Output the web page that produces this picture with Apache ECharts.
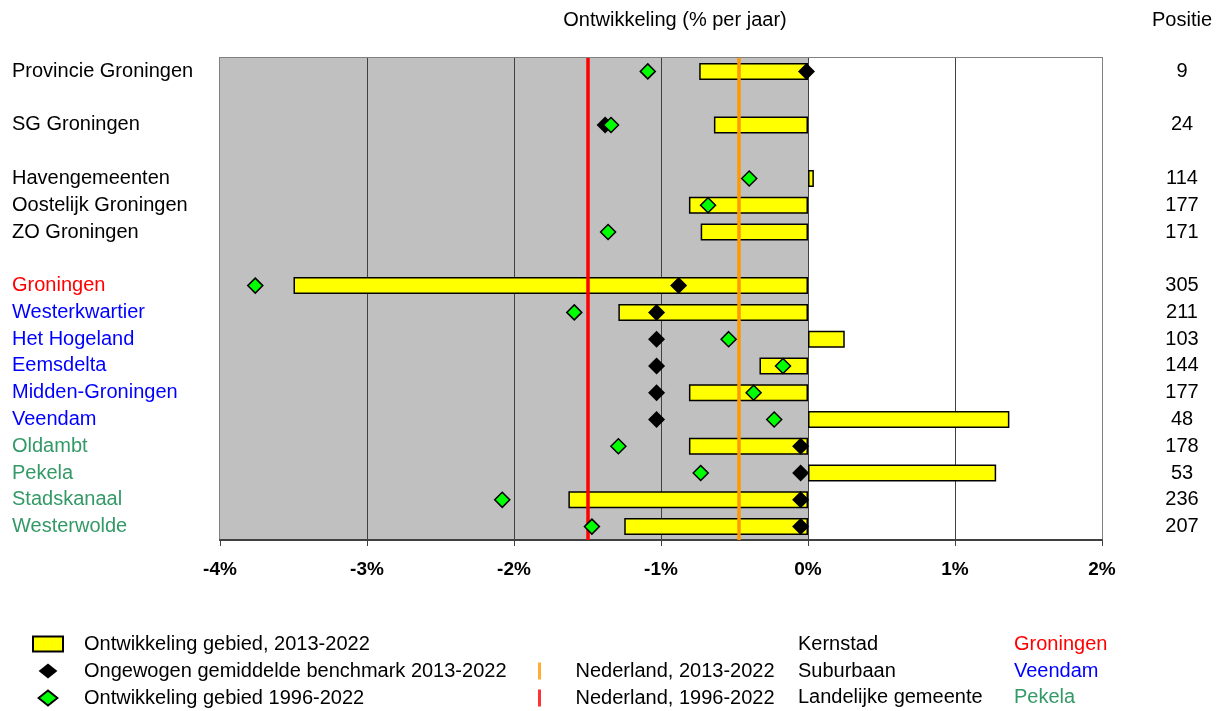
<!DOCTYPE html>
<html>
<head>
<meta charset="utf-8">
<script src="https://cdn.jsdelivr.net/npm/echarts@6/dist/echarts.min.js"></script>
<style>
html, body { margin: 0; padding: 0; background: #fff; }
#container { width: 1223px; height: 711px; }
</style>
</head>
<body>
<div id="container"></div>
<script>
// rows of the chart, '' = empty spacer row
var categories = ['Provincie Groningen', '', 'SG Groningen', '', 'Havengemeenten', 'Oostelijk Groningen', 'ZO Groningen', '',
    'Groningen', 'Westerkwartier', 'Het Hogeland', 'Eemsdelta', 'Midden-Groningen', 'Veendam',
    'Oldambt', 'Pekela', 'Stadskanaal', 'Westerwolde'];
var groups = ['regio', '', 'regio', '', 'regio', 'regio', 'regio', '',
    'kernstad', 'suburbaan', 'suburbaan', 'suburbaan', 'suburbaan', 'suburbaan',
    'landelijk', 'landelijk', 'landelijk', 'landelijk'];
var ontw2013 = [-0.74, null, -0.64, null, 0.04, -0.81, -0.73, null,
    -3.50, -1.29, 0.25, -0.33, -0.81, 1.37, -0.81, 1.28, -1.63, -1.25];
var benchmark2013 = [-0.01, null, -1.38, null, null, null, null, null,
    -0.88, -1.03, -1.03, -1.03, -1.03, -1.03, -0.05, -0.05, -0.05, -0.05];
var ontw1996 = [-1.09, null, -1.34, null, -0.40, -0.68, -1.36, null,
    -3.76, -1.59, -0.54, -0.17, -0.37, -0.23, -1.29, -0.73, -2.08, -1.47];
var positie = ['9', '', '24', '', '114', '177', '171', '',
    '305', '211', '103', '144', '177', '48', '178', '53', '236', '207'];
var nederland2013 = -0.47;
var nederland1996 = -1.50;
var xTicks = [-4, -3, -2, -1, 0, 1, 2];

var groupColors = { regio: '#000000', kernstad: '#ff0000', suburbaan: '#0000ff', landelijk: '#339966', '': '#000000' };
var font = 'Liberation Sans, Arial, sans-serif';
var diamondIcon = 'path://M10,0L20,8L10,16L0,8Z';
var barIcon = 'path://M0,0h30v15h-30z';
var lineIcon = 'path://M0,0h3v17h-3z';

function points(arr) {
    var out = [];
    arr.forEach(function (v, i) {
        if (v !== null) out.push([v, i]);
    });
    return out;
}

var dom = document.getElementById('container');
var myChart = echarts.init(dom);
var option = null;

option = {
    backgroundColor: '#ffffff',
    animation: false,
    textStyle: { fontFamily: font },
    grid: {
        left: 220,
        right: 121,
        top: 58,
        bottom: 171,
        outerBoundsMode: 'none',
        show: true,
        backgroundColor: '#ffffff',
        borderColor: '#808080',
        borderWidth: 2
    },
    xAxis: {
        type: 'value',
        min: xTicks[0],
        max: xTicks[xTicks.length - 1],
        interval: 1,
        axisLine: { show: true, lineStyle: { color: '#404040', width: 2 } },
        axisTick: { show: true, length: 6, lineStyle: { color: '#404040', width: 1 } },
        axisLabel: {
            formatter: '{value}%',
            fontSize: 19,
            fontWeight: 'bold',
            color: '#000',
            fontFamily: font,
            margin: 20
        },
        splitLine: { show: true, showMinLine: false, showMaxLine: false, lineStyle: { color: '#404040', width: 1 } },
        splitArea: {
            show: true,
            areaStyle: { color: xTicks.slice(1).map(function (t) { return t <= 0 ? '#c0c0c0' : '#ffffff'; }) }
        }
    },
    yAxis: [
        {
            type: 'category',
            inverse: true,
            data: categories,
            axisLine: { show: false },
            axisTick: { show: false },
            splitLine: { show: false },
            axisLabel: {
                interval: 0,
                align: 'left',
                margin: 208,
                fontSize: 20,
                fontFamily: font,
                color: function (value, index) {
                    return groupColors[groups[index]];
                }
            }
        },
        {
            type: 'category',
            inverse: true,
            position: 'right',
            data: positie,
            axisLine: { show: false },
            axisTick: { show: false },
            splitLine: { show: false },
            axisLabel: {
                interval: 0,
                align: 'center',
                margin: 80,
                fontSize: 20,
                color: '#000',
                fontFamily: font
            }
        }
    ],
    legend: [
        {
            orient: 'vertical',
            left: 32,
            top: 634,
            padding: 0,
            itemWidth: 62,
            itemHeight: 15,
            itemGap: 7,
            selectedMode: false,
            textStyle: { fontSize: 20, lineHeight: 20, color: '#000', fontFamily: font },
            data: [
                { name: 'Ontwikkeling gebied, 2013-2022', icon: barIcon },
                { name: 'Ongewogen gemiddelde benchmark 2013-2022', icon: diamondIcon },
                { name: 'Ontwikkeling gebied 1996-2022', icon: diamondIcon }
            ]
        },
        {
            orient: 'vertical',
            left: 538,
            top: 661,
            padding: 0,
            itemWidth: 62,
            itemHeight: 17,
            itemGap: 7,
            selectedMode: false,
            textStyle: { fontSize: 20, lineHeight: 20, color: '#000', fontFamily: font },
            data: [
                { name: 'Nederland, 2013-2022', icon: lineIcon },
                { name: 'Nederland, 1996-2022', icon: lineIcon }
            ]
        }
    ],
    graphic: [
        { type: 'text', x: 675, y: 20, style: { text: 'Ontwikkeling (% per jaar)', font: '20px ' + font, fill: '#000', textAlign: 'center', textVerticalAlign: 'middle' } },
        { type: 'text', x: 1182, y: 20, style: { text: 'Positie', font: '20px ' + font, fill: '#000', textAlign: 'center', textVerticalAlign: 'middle' } },
        { type: 'text', x: 798, y: 644, style: { text: 'Kernstad', font: '20px ' + font, fill: '#000', textVerticalAlign: 'middle' } },
        { type: 'text', x: 798, y: 671, style: { text: 'Suburbaan', font: '20px ' + font, fill: '#000', textVerticalAlign: 'middle' } },
        { type: 'text', x: 798, y: 697, style: { text: 'Landelijke gemeente', font: '20px ' + font, fill: '#000', textVerticalAlign: 'middle' } },
        { type: 'text', x: 1014, y: 644, style: { text: 'Groningen', font: '20px ' + font, fill: groupColors.kernstad, textVerticalAlign: 'middle' } },
        { type: 'text', x: 1014, y: 671, style: { text: 'Veendam', font: '20px ' + font, fill: groupColors.suburbaan, textVerticalAlign: 'middle' } },
        { type: 'text', x: 1014, y: 697, style: { text: 'Pekela', font: '20px ' + font, fill: groupColors.landelijk, textVerticalAlign: 'middle' } }
    ],
    series: [
        {
            name: 'Ontwikkeling gebied, 2013-2022',
            type: 'bar',
            z: 2,
            barWidth: 17,
            data: ontw2013,
            itemStyle: { color: '#ffff00', borderColor: '#000', borderWidth: 1.5 }
        },
        {
            name: 'Nederland, 2013-2022',
            type: 'scatter',
            z: 3,
            data: [],
            itemStyle: { color: '#ff9900' },
            markLine: {
                silent: true,
                symbol: 'none',
                label: { show: false },
                lineStyle: { color: '#ff9900', width: 3.5, type: 'solid' },
                data: [{ xAxis: nederland2013 }]
            }
        },
        {
            name: 'Nederland, 1996-2022',
            type: 'scatter',
            z: 3,
            data: [],
            itemStyle: { color: '#ff0000' },
            markLine: {
                silent: true,
                symbol: 'none',
                label: { show: false },
                lineStyle: { color: '#ff0000', width: 3.5, type: 'solid' },
                data: [{ xAxis: nederland1996 }]
            }
        },
        {
            name: 'Ongewogen gemiddelde benchmark 2013-2022',
            type: 'scatter',
            z: 4,
            symbol: 'diamond',
            symbolSize: 17,
            data: points(benchmark2013),
            itemStyle: { color: '#000000', opacity: 1 }
        },
        {
            name: 'Ontwikkeling gebied 1996-2022',
            type: 'scatter',
            z: 5,
            symbol: 'diamond',
            symbolSize: 15,
            data: points(ontw1996),
            itemStyle: { color: '#00ff00', borderColor: '#000', borderWidth: 1.5, opacity: 1 }
        }
    ]
};

if (option && typeof option === "object") {
    myChart.setOption(option, true);
}
</script>
</body>
</html>
